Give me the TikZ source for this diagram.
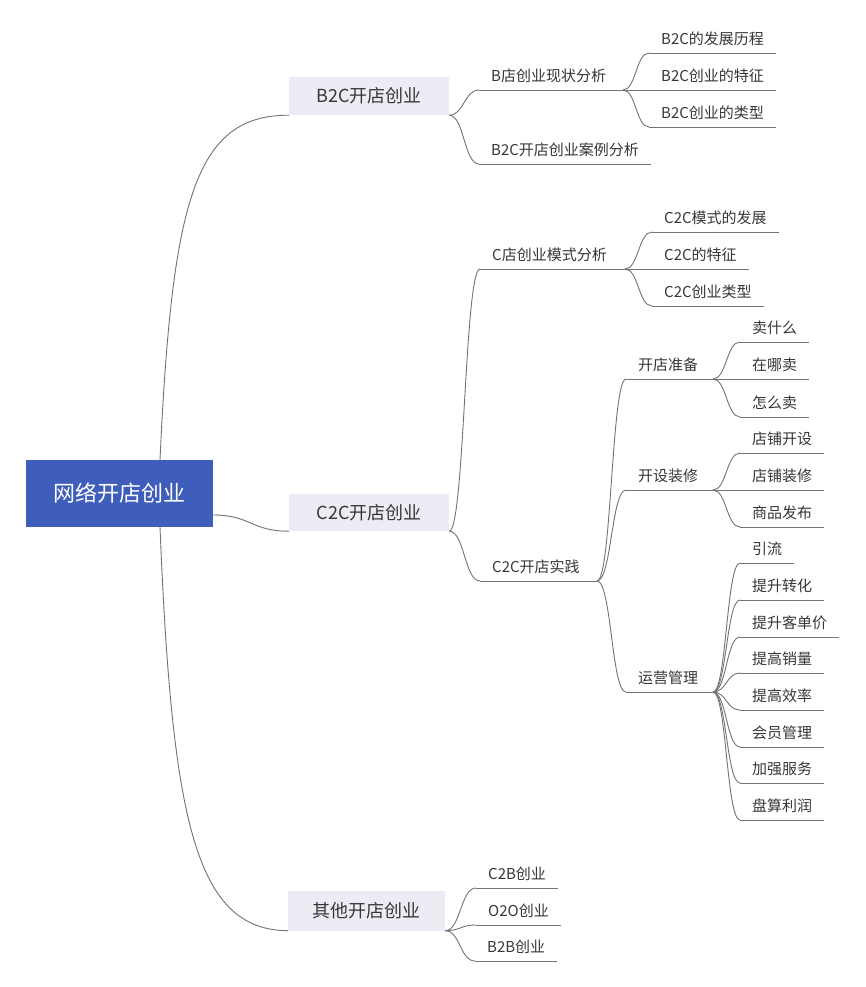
\documentclass[tikz,border=0pt]{standalone}
\usepackage{fontspec}
\setmainfont{Noto Sans CJK SC}
\usetikzlibrary{calc}
\definecolor{lnc}{RGB}{115,115,115}
\definecolor{txt}{RGB}{55,55,55}
\definecolor{rootc}{RGB}{63,93,186}
\definecolor{lonec}{RGB}{236,236,244}
\tikzset{
  conn/.style={draw=lnc, line width=0.9pt},
  leaf/.style={anchor=south west, inner xsep=12pt, inner ysep=5.5pt, text height=11pt, text depth=2.5pt, font=\fontsize{15}{18}\selectfont, text=txt},
  lonebox/.style={fill=lonec, inner sep=0pt, font=\fontsize{18}{22}\selectfont, text=txt},
  rootbox/.style={fill=rootc, inner sep=0pt, font=\fontsize{22}{26}\selectfont, text=white}
}
\newcommand\mmlink[2]{%
  \path (#1) -- (#2) coordinate[pos=0.5] (mmM);
  \draw[conn] (#1) .. controls (mmM |- #1) and (mmM |- #2) .. (#2);
}
\newcommand\uline[1]{\draw[conn] (#1.south west) -- (#1.south east);}
\begin{document}
\begin{tikzpicture}[x=1pt,y=-1pt]
\useasboundingbox (0,0) rectangle (865,987);
\fill[white] (0,0) rectangle (865,987);

% root and level 1
\node[rootbox, minimum width=187pt, minimum height=67pt] (root) at (119.5,493.5) {网络开店创业};
\node[lonebox, minimum width=160pt, minimum height=38pt] (b2c) at (369,96) {B2C开店创业};
\node[lonebox, minimum width=160pt, minimum height=37pt] (c2c) at (369,512.5) {C2C开店创业};
\node[lonebox, minimum width=157pt, minimum height=40pt] (oth) at (366.5,910.5) {其他开店创业};

\coordinate (rt) at (160,460);
\coordinate (rb) at (160,527);
\coordinate (rr) at (213,515);

\draw[conn] (rt) .. controls (172,200) and (195,115) .. (b2c.south west);
\mmlink{rr}{c2c.south west}
\draw[conn] (rb) .. controls (172,820) and (195,930) .. (oth.south west);

% level 2
\node[leaf] (b1) at (479,90) {B店创业现状分析};
\node[leaf] (b2) at (479,164) {B2C开店创业案例分析};
\node[leaf] (c1) at (480,269) {C店创业模式分析};
\node[leaf] (c2) at (480,581) {C2C开店实践};
\node[leaf] (o1) at (476,888) {C2B创业};
\node[leaf] (o2) at (476,925) {O2O创业};
\node[leaf] (o3) at (475,961) {B2B创业};

\coordinate (b1e) at (623,90);
\coordinate (c1e) at (625,269);
\coordinate (c2e) at (597,581);

\mmlink{b2c.south east}{b1.south west}
\draw[conn] (b1.south west) -- (b1e);
\mmlink{b2c.south east}{b2.south west}
\uline{b2}
\mmlink{c2c.south east}{c1.south west}
\draw[conn] (c1.south west) -- (c1e);
\mmlink{c2c.south east}{c2.south west}
\draw[conn] (c2.south west) -- (c2e);
\mmlink{oth.south east}{o1.south west}\uline{o1}
\mmlink{oth.south east}{o2.south west}\uline{o2}
\mmlink{oth.south east}{o3.south west}\uline{o3}

% level 3 under B2C
\node[leaf] (b11) at (649,53) {B2C的发展历程};
\node[leaf] (b12) at (649,90) {B2C创业的特征};
\node[leaf] (b13) at (649,127) {B2C创业的类型};
\mmlink{b1e}{b11.south west}\uline{b11}
\draw[conn] (b1e) -- (b12.south east);
\mmlink{b1e}{b13.south west}\uline{b13}

% level 3 under C店
\node[leaf] (c11) at (652,232) {C2C模式的发展};
\node[leaf] (c12) at (652,269) {C2C的特征};
\node[leaf] (c13) at (652,306) {C2C创业类型};
\mmlink{c1e}{c11.south west}\uline{c11}
\draw[conn] (c1e) -- (c12.south east);
\mmlink{c1e}{c13.south west}\uline{c13}

% level 3 under C2C开店实践
\node[leaf] (c21) at (626,379) {开店准备};
\node[leaf] (c22) at (626,490) {开设装修};
\node[leaf] (c23) at (626,692) {运营管理};
\coordinate (c21e) at (713,379);
\coordinate (c22e) at (713,490);
\coordinate (c23e) at (713,692);
\mmlink{c2e}{c21.south west}\draw[conn] (c21.south west) -- (c21e);
\mmlink{c2e}{c22.south west}\draw[conn] (c22.south west) -- (c22e);
\mmlink{c2e}{c23.south west}\draw[conn] (c23.south west) -- (c23e);

% level 4 under 开店准备
\node[leaf] (d1) at (740,342) {卖什么};
\node[leaf] (d2) at (740,379) {在哪卖};
\node[leaf] (d3) at (740,417) {怎么卖};
\mmlink{c21e}{d1.south west}\uline{d1}
\draw[conn] (c21e) -- (d2.south east);
\mmlink{c21e}{d3.south west}\uline{d3}

% level 4 under 开设装修
\node[leaf] (e1) at (740,453) {店铺开设};
\node[leaf] (e2) at (740,490) {店铺装修};
\node[leaf] (e3) at (740,527) {商品发布};
\mmlink{c22e}{e1.south west}\uline{e1}
\draw[conn] (c22e) -- (e2.south east);
\mmlink{c22e}{e3.south west}\uline{e3}

% level 4 under 运营管理
\node[leaf] (f1) at (740,563) {引流};
\node[leaf] (f2) at (740,600) {提升转化};
\node[leaf] (f3) at (740,637) {提升客单价};
\node[leaf] (f4) at (740,673) {提高销量};
\node[leaf] (f5) at (740,710) {提高效率};
\node[leaf] (f6) at (740,747) {会员管理};
\node[leaf] (f7) at (740,783) {加强服务};
\node[leaf] (f8) at (740,820) {盘算利润};
\foreach \n in {f1,f2,f3,f4,f5,f6,f7,f8}{\mmlink{c23e}{\n.south west}\uline{\n}}
\end{tikzpicture}
\end{document}
